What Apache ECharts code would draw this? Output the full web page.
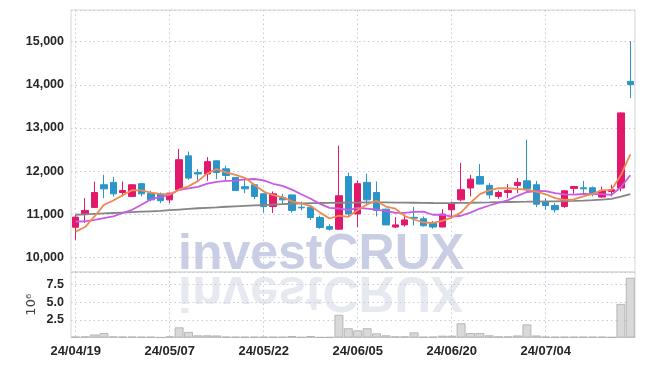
<!DOCTYPE html>
<html><head><meta charset="utf-8">
<script src="https://cdn.jsdelivr.net/npm/echarts@6/dist/echarts.min.js"></script>
<style>html,body{margin:0;padding:0;background:#fff}#c{width:645px;height:366px}</style>
</head><body><div id="c"></div>
<script>
const dates = ['24/04/19','24/04/22','24/04/23','24/04/24','24/04/25','24/04/26','24/04/29','24/04/30','24/05/02','24/05/03',
'24/05/07','24/05/08','24/05/09','24/05/10','24/05/13','24/05/14','24/05/16','24/05/17','24/05/20','24/05/21',
'24/05/22','24/05/23','24/05/24','24/05/27','24/05/28','24/05/29','24/05/30','24/05/31','24/06/03','24/06/04',
'24/06/05','24/06/07','24/06/10','24/06/11','24/06/12','24/06/13','24/06/14','24/06/17','24/06/18','24/06/19',
'24/06/20','24/06/21','24/06/24','24/06/25','24/06/26','24/06/27','24/06/28','24/07/01','24/07/02','24/07/03',
'24/07/04','24/07/05','24/07/08','24/07/09','24/07/10','24/07/11','24/07/12','24/07/15','24/07/16','24/07/17'];
const opens = [10700,10995,11160,11685,11740,11505,11415,11710,11490,11470,
11335,11570,12355,11970,11935,12240,12055,11855,11640,11685,
11475,11180,11390,11450,11165,11165,10925,10715,10655,11875,
11010,11740,11505,11120,10705,10755,10930,10895,10795,10705,
11105,11335,11610,11875,11670,11415,11505,11670,11775,11685,
11295,11205,11180,11600,11615,11615,11400,11530,11610,14080];
const closes = [10935,11090,11505,11590,11475,11550,11685,11475,11335,11315,
11490,12265,11840,11935,12220,11970,11900,11550,11590,11415,
11180,11475,11335,11090,11150,10925,10695,10655,11430,11010,
11710,11335,11090,10755,10755,10870,10910,10735,10705,11005,
11245,11570,11815,11700,11450,11505,11550,11740,11590,11235,
11205,11105,11545,11645,11590,11490,11540,11570,13350,14005];
const lows = [10410,10800,11150,11375,11415,11415,11410,11415,11300,11260,
11260,11560,11800,11745,11775,11815,11775,11545,11490,11350,
11040,11030,11220,11040,11090,10870,10665,10625,10640,10950,
10705,11220,10950,10750,10680,10715,10740,10715,10665,10700,
10895,11300,11415,11695,11360,11360,11375,11490,11530,11165,
11105,11040,11150,11475,11450,11415,11375,11415,11530,13695];
const highs = [10990,11375,11755,11915,11865,11760,11700,11715,11545,11505,
11500,12515,12455,12050,12325,12245,12125,11865,11865,11690,
11480,11530,11475,11460,11295,11220,10965,10770,12590,11970,
11785,11940,11760,11125,10935,10990,11170,10950,10850,11120,
11295,12190,11915,12165,11725,11550,11700,11840,12730,11775,
11375,11260,11550,11650,11775,11645,11645,11685,13360,15010];
const volumes = [0.12,0.15,0.42,0.62,0.15,0.12,0.12,0.10,0.10,0.02,
0.15,1.43,0.78,0.30,0.30,0.28,0.12,0.10,0.10,0.10,
0.10,0.10,0.08,0.20,0.05,0.20,0.03,0.05,3.20,1.30,
1.00,1.30,0.58,0.30,0.15,0.15,0.72,0.10,0.12,0.25,
0.25,2.00,0.62,0.62,0.30,0.15,0.15,0.28,1.85,0.28,
0.12,0.10,0.10,0.10,0.10,0.10,0.10,0.05,4.75,8.45];
const ma5 = [10600,10705,10950,11220,11319,11442,11561,11555,11504,11472,
11460,11576,11649,11769,11950,12046,11973,11915,11846,11685,
11527,11442,11399,11299,11246,11195,11039,10903,10971,10943,
11100,11228,11315,11180,11129,10961,10880,10810,10800,10850,
10925,11045,11268,11467,11556,11608,11604,11589,11567,11524,
11464,11375,11336,11347,11418,11475,11562,11567,11908,12391];
const ma10 = [10833,10835,10870,10910,10950,11030,11105,11220,11350,11396,
11451,11569,11602,11637,11711,11753,11775,11782,11808,11818,
11787,11708,11657,11573,11466,11361,11241,11151,11135,11095,
11148,11134,11109,11076,11036,11031,11055,11062,10990,10990,
10944,10967,11040,11134,11204,11268,11328,11429,11517,11540,
11536,11490,11463,11457,11471,11470,11469,11452,11628,11905];
const maLong = [10990,11000,11010,11020,11030,11040,11050,11060,11070,11080,
11095,11110,11125,11140,11150,11160,11175,11185,11195,11205,
11215,11225,11235,11245,11255,11260,11262,11265,11268,11270,
11272,11275,11275,11275,11272,11270,11268,11265,11262,11260,
11262,11265,11268,11272,11275,11280,11285,11290,11292,11295,
11298,11300,11305,11310,11318,11328,11340,11360,11410,11470];

const FONT = '"Liberation Sans", Arial, sans-serif';
const gridDot = {color:'#c8c8da', type:[1.5,3], width:1};
const candles = dates.map((d,i)=>[opens[i],closes[i],lows[i],highs[i]]);
const chart = echarts.init(document.getElementById('c'), null, {renderer:'canvas'});
chart.setOption({
  animation:false,
  backgroundColor:'#ffffff',
  graphic:[
    {type:'text', x:178, y:255, z:-10, silent:true,
     style:{text:'investCRUX', font:'bold 50px "Liberation Sans"', fill:'#c9cee4', verticalAlign:'middle'}},
    {type:'text', x:178, y:291, scaleY:-1, z:-10, silent:true,
     style:{text:'investCRUX', font:'bold 50px "Liberation Sans"', fill:'#e7e9f1', verticalAlign:'middle'}}
  ],
  grid:[
    {left:71, right:10, top:10, height:262, show:true, borderColor:'#d6d6d6', borderWidth:1, backgroundColor:'transparent'},
    {left:71, right:10, top:272, height:65.5, show:true, borderColor:'#d6d6d6', borderWidth:1, backgroundColor:'transparent'}
  ],
  xAxis:[
    {type:'category', gridIndex:0, data:dates, boundaryGap:true,
     axisLine:{show:false}, axisTick:{show:false}, axisLabel:{show:false},
     splitLine:{show:true, interval:9, alignWithLabel:true, lineStyle:gridDot}},
    {type:'category', gridIndex:1, data:dates, boundaryGap:true,
     axisLine:{show:false}, axisTick:{show:false},
     axisLabel:{interval:9, fontFamily:FONT, fontSize:13, fontWeight:'bold', color:'#262626', margin:7},
     splitLine:{show:true, interval:9, alignWithLabel:true, lineStyle:gridDot}}
  ],
  yAxis:[
    {type:'value', gridIndex:0, min:9663, max:15735, minInterval:1000, maxInterval:1000, scale:true,
     axisLine:{show:false}, axisTick:{show:false},
     axisLabel:{fontFamily:FONT, fontSize:12.5, fontWeight:'bold', color:'#262626', margin:7,
       formatter:v=> (Math.abs(v%1000)<1e-6 ? v.toLocaleString('en-US') : '')},
     splitLine:{show:true, lineStyle:gridDot}},
    {type:'value', gridIndex:1, min:0, max:9.27, interval:2.5,
     axisLine:{show:false}, axisTick:{show:false},
     axisLabel:{fontFamily:FONT, fontSize:12.5, fontWeight:'bold', color:'#262626', margin:7,
       formatter:v=> (v>0 && v<9 ? v.toFixed(1) : '')},
     name:'10\u2076', nameLocation:'middle', nameRotate:90, nameGap:33, nameMoveOverlap:false,
     nameTextStyle:{fontFamily:'"DejaVu Sans"', fontSize:13, color:'#444'},
     splitLine:{show:true, lineStyle:gridDot}}
  ],
  series:[
    {type:'candlestick', xAxisIndex:0, yAxisIndex:0, data:candles, barWidth:7,
     itemStyle:{color:'#e2196b', color0:'#2b95c9', borderColor:'#e2196b', borderColor0:'#2b95c9', borderWidth:1}},
    {type:'line', xAxisIndex:0, yAxisIndex:0, data:maLong, symbol:'none', z:3,
     lineStyle:{color:'#858585', width:1.8}},
    {type:'line', xAxisIndex:0, yAxisIndex:0, data:ma10, symbol:'none', z:3,
     lineStyle:{color:'#c85be6', width:1.8}},
    {type:'line', xAxisIndex:0, yAxisIndex:0, data:ma5, symbol:'none', z:4,
     lineStyle:{color:'#f08a50', width:1.8}},
    {type:'bar', xAxisIndex:1, yAxisIndex:1, data:volumes, barCategoryGap:'6%',
     itemStyle:{color:'#d9d9d9', borderColor:'#ababab', borderWidth:0.8}}
  ]
});
</script></body></html>
